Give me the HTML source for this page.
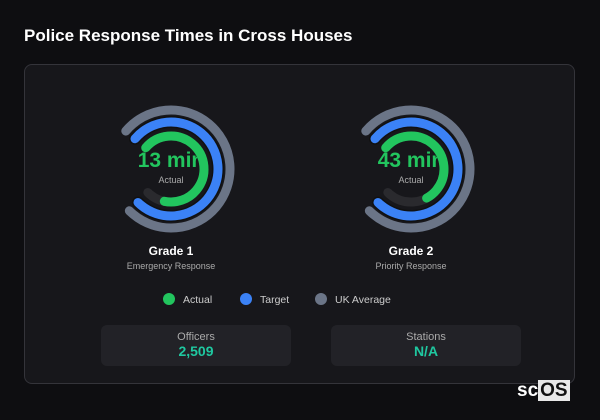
<!DOCTYPE html>
<html><head><style>
body{margin:0;width:600px;height:420px;background:#0e0e11;font-family:"Liberation Sans",sans-serif;position:relative;overflow:hidden}
.t{position:absolute;left:24px;top:26px;color:#fff;font-weight:bold;font-size:17px}
.card{position:absolute;left:24px;top:64px;width:551px;height:320px;border:1px solid #34343a;border-radius:8px;background:#17171b;box-sizing:border-box}
.box{position:absolute;top:325px;width:190px;height:41px;background:#222227;border-radius:6px;text-align:center}
.box .l{color:#aaa;font-size:11px;margin-top:6px}
.box .v{color:#1fc8a0;font-weight:bold;font-size:14px}
.logo{position:absolute;left:517px;top:380px;font-size:19px;color:#fff;font-weight:bold}
.logo span{background:#e8e8e8;color:#111;padding:0 2px}
</style></head><body>
<div class="t">Police Response Times in Cross Houses</div>
<div class="card"></div>
<svg width="600" height="420" style="position:absolute;left:0;top:0" font-family="Liberation Sans, sans-serif">
<g transform="translate(171,169)">
<text x="0" y="-2" text-anchor="middle" fill="#22c55e" font-size="21" font-weight="bold">13 min</text>
<text x="0" y="14" text-anchor="middle" fill="#aaa" font-size="9">Actual</text>
<g transform="rotate(-140)" fill="none" stroke-linecap="round" stroke-width="9">
<circle r="59" stroke="#6b7587" stroke-dasharray="283 1000"/>
<circle r="47" stroke="#111" stroke-width="12" stroke-dasharray="225 1000"/>
<circle r="47" stroke="#3b82f6" stroke-dasharray="225 1000"/>
<circle r="33" stroke="#2a2a2e" stroke-dasharray="158 1000"/>
<circle r="33" stroke="#22c55e" stroke-dasharray="139 1000"/>
</g>
<text x="0" y="86" text-anchor="middle" fill="#fff" font-size="12" font-weight="bold">Grade 1</text>
<text x="0" y="100" text-anchor="middle" fill="#aaa" font-size="9">Emergency Response</text>
</g>
<g transform="translate(411,169)">
<text x="0" y="-2" text-anchor="middle" fill="#22c55e" font-size="21" font-weight="bold">43 min</text>
<text x="0" y="14" text-anchor="middle" fill="#aaa" font-size="9">Actual</text>
<g transform="rotate(-140)" fill="none" stroke-linecap="round" stroke-width="9">
<circle r="59" stroke="#6b7587" stroke-dasharray="283 1000"/>
<circle r="47" stroke="#111" stroke-width="12" stroke-dasharray="225 1000"/>
<circle r="47" stroke="#3b82f6" stroke-dasharray="225 1000"/>
<circle r="33" stroke="#2a2a2e" stroke-dasharray="158 1000"/>
<circle r="33" stroke="#22c55e" stroke-dasharray="116 1000"/>
</g>
<text x="0" y="86" text-anchor="middle" fill="#fff" font-size="12" font-weight="bold">Grade 2</text>
<text x="0" y="100" text-anchor="middle" fill="#aaa" font-size="9">Priority Response</text>
</g>
<circle cx="169" cy="299" r="6" fill="#22c55e"/><text x="183" y="303" fill="#ccc" font-size="10.5">Actual</text>
<circle cx="246" cy="299" r="6" fill="#3b82f6"/><text x="260" y="303" fill="#ccc" font-size="10.5">Target</text>
<circle cx="321" cy="299" r="6" fill="#6b7587"/><text x="335" y="303" fill="#ccc" font-size="10.5">UK Average</text>
</svg>
<div class="box" style="left:101px"><div class="l">Officers</div><div class="v">2,509</div></div>
<div class="box" style="left:331px"><div class="l">Stations</div><div class="v">N/A</div></div>
<div class="logo">sc<span>OS</span></div>
</body></html>
